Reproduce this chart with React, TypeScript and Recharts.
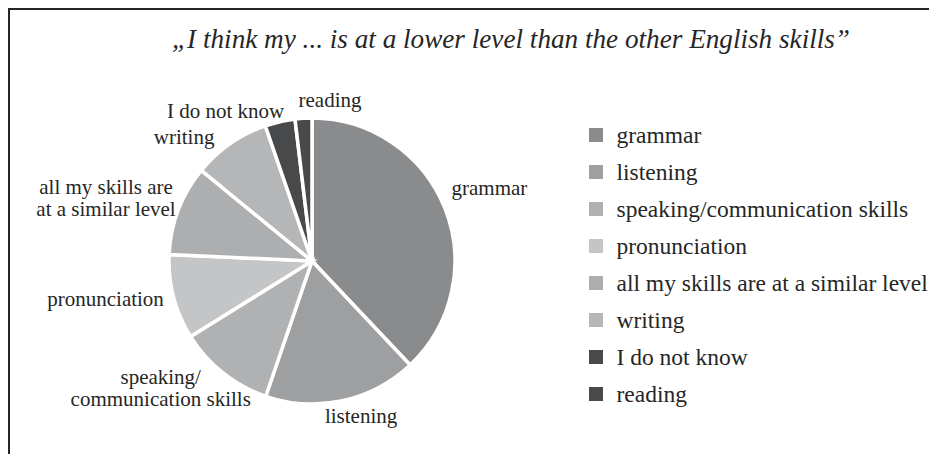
import { Cell, Legend, Pie, PieChart } from "recharts";

// answer shares (percent of respondents)
const CATEGORIES = [
    "grammar",
    "listening",
    "speaking/communication skills",
    "pronunciation",
    "all my skills are at a similar level",
    "writing",
    "I do not know",
    "reading",
];
const SHARES = [38.0, 17.3, 10.9, 9.6, 10.2, 8.8, 3.4, 1.9];
const SLICE_LABELS = [
    "grammar",
    "listening",
    "speaking/\ncommunication skills",
    "pronunciation",
    "all my skills are\nat a similar level",
    "writing",
    "I do not know",
    "reading",
];

const COLORS = ["#8a8b8d", "#9e9fa1", "#b0b1b3", "#c4c5c7", "#adaeb0", "#b5b6b8", "#48494b", "#48494b"];

const SERIF = "Liberation Serif, Tinos, Times New Roman, Times, Nimbus Roman, DejaVu Serif, serif";
const INK = "#262626";
const LABEL_SIZE = 21;
const LINE_H = 22;

// Excel moved a few labels around to avoid collisions
const LABEL_NUDGE: [number, number][] = [
    [0, -13],
    [9, -5],
    [0, -10],
    [-2, -4],
    [2, -1],
    [-23, 10],
    [-39, 9],
    [29, 2],
];

const data = CATEGORIES.map((name, i) => ({ name, value: SHARES[i] }));

let ctx: CanvasRenderingContext2D | null = null;
function textWidth(text: string, font: string) {
    if (!ctx) ctx = document.createElement("canvas").getContext("2d");
    if (!ctx) return text.length * LABEL_SIZE * 0.45;
    ctx.font = font;
    return ctx.measureText(text).width;
}

function renderLabel(props: any) {
    const { cx, cy, midAngle, outerRadius, index } = props;
    const rad = Math.PI / 180;
    const dx = Math.cos(-midAngle * rad);
    const dy = Math.sin(-midAngle * rad);
    const lines = SLICE_LABELS[index].split("\n");
    const w = Math.max(...lines.map((l) => textWidth(l, `${LABEL_SIZE}px ${SERIF}`)));
    const h = lines.length === 1 ? LABEL_SIZE : lines.length * LINE_H;
    const r = outerRadius + 10;
    const [nx, ny] = LABEL_NUDGE[index];
    const bx = cx + r * dx + (w / 2) * dx + nx;
    const by = cy + r * dy + (h / 2) * dy + ny;
    return (
        <text x={bx} y={by} textAnchor="middle" fill={INK} fontSize={LABEL_SIZE} fontFamily={SERIF}>
            {lines.map((l, i) => (
                <tspan key={i} x={bx} y={by + (i - (lines.length - 1) / 2) * LINE_H + LABEL_SIZE * 0.35}>
                    {l}
                </tspan>
            ))}
        </text>
    );
}

function renderLegend() {
    return (
        <div style={{ fontFamily: SERIF, fontSize: 23.5, color: INK }}>
            {CATEGORIES.map((c, i) => (
                <div key={c} style={{ display: "flex", alignItems: "center", height: 36.9 }}>
                    <span style={{ width: 14, height: 14, background: COLORS[i], marginRight: 13.5, flex: "none" }} />
                    <span style={{ whiteSpace: "nowrap", lineHeight: "24px" }}>{c}</span>
                </div>
            ))}
        </div>
    );
}

export default function App() {
    return (
        <div style={{ position: "relative", width: 929, height: 446, fontFamily: SERIF }}>
            {/* frame: only top and left edges are visible */}
            <div style={{ position: "absolute", left: 0, top: 0, width: 929, height: 1.5, background: INK }} />
            <div style={{ position: "absolute", left: 0, top: 0, width: 1.5, height: 446, background: INK }} />

            <svg width={929} height={60} style={{ position: "absolute", left: 0, top: 0 }}>
                <text
                    x={503}
                    y={40}
                    textAnchor="middle"
                    fontFamily={SERIF}
                    fontStyle="italic"
                    fontSize={27}
                    fill={INK}
                    textLength={678}
                    lengthAdjust="spacingAndGlyphs"
                >
                    „I think my ... is at a lower level than the other English skills”
                </text>
            </svg>

            <div style={{ position: "absolute", left: 0, top: 0 }}>
                <PieChart width={929} height={446} margin={{ top: 0, right: 0, bottom: 0, left: 0 }}>
                    <Pie
                        data={data}
                        dataKey="value"
                        nameKey="name"
                        cx={304}
                        cy={253}
                        outerRadius={143}
                        startAngle={90}
                        endAngle={-270}
                        stroke="#ffffff"
                        strokeWidth={3.5}
                        label={renderLabel}
                        labelLine={false}
                        isAnimationActive={false}
                    >
                        {data.map((d, i) => (
                            <Cell key={d.name} fill={COLORS[i]} />
                        ))}
                    </Pie>
                    <Legend
                        content={renderLegend}
                        wrapperStyle={{ position: "absolute", left: 581, top: 109, width: 345 }}
                    />
                </PieChart>
            </div>
        </div>
    );
}
